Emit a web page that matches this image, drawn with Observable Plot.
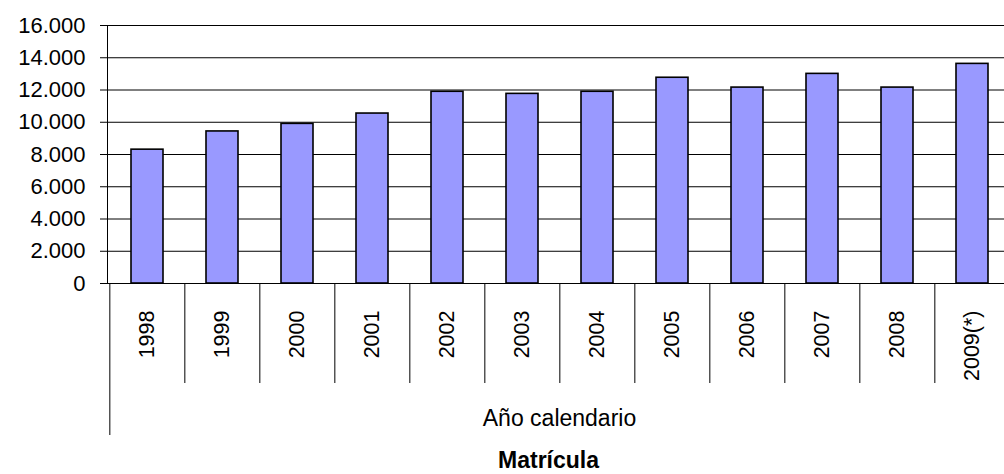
<!DOCTYPE html>
<html>
<head>
<meta charset="utf-8">
<script src="https://cdn.jsdelivr.net/npm/d3@7"></script>
<script src="https://cdn.jsdelivr.net/npm/@observablehq/plot@0.6"></script>
<style>
  html, body { margin: 0; padding: 0; background: #fff; overflow: hidden; }
  #chart svg { display: block; }
</style>
</head>
<body>
<div id="chart"></div>
<script>
const years = ["1998","1999","2000","2001","2002","2003","2004","2005","2006","2007","2008","2009(*)"];
const matricula = [8300, 9430, 9900, 10540, 11890, 11760, 11890, 12760, 12150, 13000, 12150, 13620];
const yTicks = [0, 2000, 4000, 6000, 8000, 10000, 12000, 14000, 16000];
const xTitle = "Año calendario";
const chartTitle = "Matrícula";

const data = years.map((y, i) => ({year: y, value: matricula[i]}));

const W = 1004, H = 474;
const mLeft = 107, mTop = 25, mBottom = 191;
const xRange = [107, 1011];
const step = (xRange[1] - xRange[0]) / years.length;
const fmt = d => d3.format(",")(d).replace(/,/g, ".");
const font = "'Liberation Sans', Arial, sans-serif";

const plot = Plot.plot({
  width: W,
  height: H,
  marginLeft: mLeft,
  marginRight: 0,
  marginTop: mTop,
  marginBottom: mBottom,
  style: {fontFamily: font, color: "black", background: "white", overflow: "visible"},
  x: {domain: years, range: xRange, paddingInner: 0.575, paddingOuter: 0.2875},
  y: {domain: [0, 16000]},
  marks: [
    Plot.gridY(yTicks, {stroke: "black", strokeOpacity: 1, strokeWidth: 1}),
    Plot.barY(data, {x: "year", y: "value", fill: "#9999FF", stroke: "black", strokeWidth: 1.6}),
    Plot.ruleY([0], {stroke: "black", strokeWidth: 1}),
    Plot.frame({anchor: "left", stroke: "black", strokeWidth: 1}),
    Plot.axisY(yTicks, {tickSize: 7, tickPadding: 15, tickFormat: fmt, fontSize: 22, label: null, stroke: "black"}),
    Plot.axisX(years.slice(1), {tickSize: 100, text: null, dx: -step / 2, label: null, stroke: "black", strokeOpacity: 1}),
    Plot.axisX(years.slice(0, 1), {tickSize: 152, text: null, dx: -step / 2, label: null, stroke: "black", strokeOpacity: 1}),
    Plot.axisX(years, {tickSize: 0, tickPadding: 27, tickRotate: -90, fontSize: 21.5, label: null}),
    Plot.text([xTitle], {text: d => d, frameAnchor: "bottom", dx: 3.5, dy: 142, lineAnchor: "bottom", fontSize: 23, fill: "black"}),
    Plot.text([chartTitle], {text: d => d, frameAnchor: "bottom", dx: -7.5, dy: 184, lineAnchor: "bottom", fontSize: 23, fontWeight: "bold", fill: "black"})
  ]
});
document.getElementById("chart").appendChild(plot);
</script>
</body>
</html>
